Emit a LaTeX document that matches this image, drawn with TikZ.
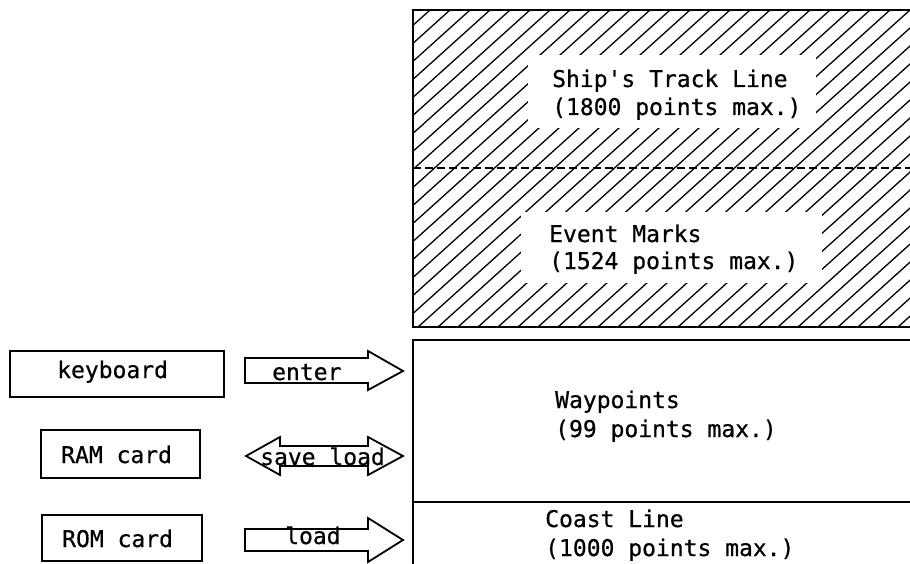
\documentclass[tikz,border=0pt]{standalone}
\usepackage{fontspec}
\newfontfamily\monof[FakeBold=0.6]{DejaVu Sans Mono}
\begin{document}
\begin{tikzpicture}[x=1pt,y=-1pt,
  txt/.style={font=\monof\fontsize{23}{28}\selectfont, inner sep=0pt, anchor=base west},
  frame/.style={line width=2pt},
  boxline/.style={draw, line width=1.8pt},
  blk/.style={draw, line width=1.8pt, fill=white, line join=miter},
  hatch/.style={line width=1.3pt}]
\useasboundingbox (0,0) rectangle (910,564);
% hatching of the upper area
\begin{scope}
  \clip (413,10) rectangle (910,327);
  \foreach \c in {58,78,...,918} { \draw[hatch] (\c,327) -- ++(352,-317); }
\end{scope}
\fill[white] (528,55) rectangle (816,128);
\fill[white] (521,212) rectangle (822,283);
\draw[line width=1.8pt, dash pattern=on 8pt off 4pt] (413,168) -- (910,168);
% frames
\draw[frame] (910,10) -- (413,10) -- (413,327) -- (910,327);
\draw[frame] (910,340) -- (413,340) -- (413,564);
\draw[frame] (413,502) -- (910,502);
% area texts
\node[txt] (t1a) at (552,87) {Ship's Track Line};
\node[txt] (t1b) at (552,115) {(1800 points max.)};
\node[txt] (t2a) at (549,242) {Event Marks};
\node[txt] (t2b) at (549,269) {(1524 points max.)};
\node[txt] (t3a) at (555,408) {Waypoints};
\node[txt] (t3b) at (555,437) {(99 points max.)};
\node[txt] (t4a) at (545,527) {Coast Line};
\node[txt] (t4b) at (545,556) {(1000 points max.)};
% source boxes
\draw[boxline] (10,351) rectangle (224,397);
\node[txt] (kb) at (57,378) {keyboard};
\draw[boxline] (41,430) rectangle (200,478);
\node[txt] (ram) at (61,463) {RAM card};
\draw[boxline] (42,515) rectangle (202,561);
\node[txt] (rom) at (62,547) {ROM card};
% block arrows
\draw[blk] (245,358) -- (368,358) -- (368,351) -- (403,371) -- (368,390) -- (368,383) -- (245,383) -- cycle;
\node[txt] (enter) at (272,380) {enter};
\draw[blk] (246,456) -- (280,437) -- (280,446) -- (368,446) -- (368,437) -- (403,456) -- (368,475) -- (368,466) -- (280,466) -- (280,475) -- cycle;
\node[txt] (saveload) at (260,465) {save load};
\draw[blk] (245,529) -- (368,529) -- (368,518) -- (403,540) -- (368,562) -- (368,551) -- (245,551) -- cycle;
\node[txt] (load) at (285,544) {load};
\end{tikzpicture}
\end{document}
